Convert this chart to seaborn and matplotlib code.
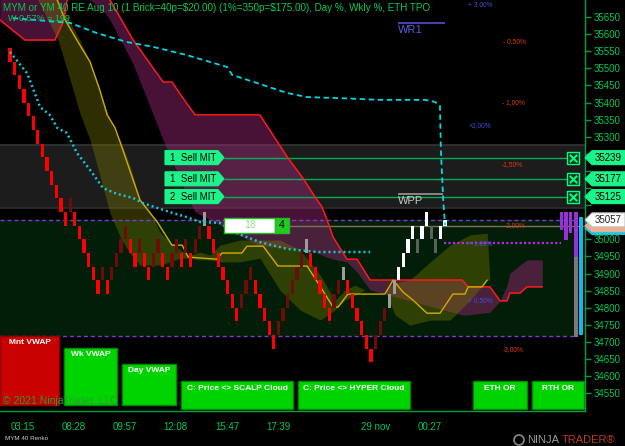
"""
MYM 40 Renko - NinjaTrader style chart
"""
import numpy as np
import pandas as pd
import matplotlib
matplotlib.use('Agg')
import matplotlib.pyplot as plt
import seaborn as sns
from matplotlib.patches import Polygon, Rectangle, Circle
from matplotlib.transforms import IdentityTransform

# --- renko bricks (level 0 top = 35560, 40 pts per brick) ---
brick_top0 = 35560
brick_size = 40
brick_level = [0, 1, 2, 3, 4, 5, 6, 7, 8, 9, 10, 11, 12, 11, 12, 13, 14, 15, 16, 17,
               16, 17, 16, 15, 14, 13, 14, 15, 14, 15, 16, 15, 14, 15, 16, 15, 14, 15, 14, 15,
               14, 13, 12, 13, 14, 15, 16, 17, 18, 19, 18, 17, 16, 17, 18, 19, 20, 21, 20, 19,
               18, 17, 16, 15, 14, 15, 16, 17, 18, 19, 18, 17, 16, 17, 18, 19, 20, 21, 22, 21,
               20, 19, 18, 17, 16, 15, 14, 13, 14, 13, 12, 13, 14, 13]
brick_kind = ("DDDDDDDDDDDDD" "u" "DDDDDD" "u" "D" "uuuu" "DD" "u" "DD" "uu" "DD" "uu" "D" "u" "D"
              "uu" "g" "DDDDDDD" "uuu" "DDDDD" "uuuuuu" "g" "DDDDD" "uu" "g" "DDDDDD" "uuu" "gg"
              "WWWW" "d" "WW" "dd" "W")
last_open, last_close = 35040, 35057

# --- indicator lines (x = brick index, y = price) ---
wk_vwap_x = [0.6, 13.0, 18.8, 25.3, 30.9, 38.2, 46.9, 48.0, 53.4, 59.9, 64.2, 71.3, 79.9,
             89.7, 91.8, 92.9, 93.1, 93.6, 94.0]
wk_vwap_y = [35647, 35633, 35603, 35577, 35563, 35539, 35504, 35481, 35457, 35428, 35416,
             35413, 35408, 35408, 35402, 35390, 35261, 35115, 35042]

day_vwap_x = [0, 3.7, 6.5, 8.6, 10.2, 12.3, 14.5, 17.3, 20.1, 23.1, 26.6, 28.7, 31.8, 35.2,
              38.2, 41.1, 45.4, 49.0, 54.0, 59.9, 66.3, 77.8]
day_vwap_y = [35548, 35486, 35387, 35364, 35326, 35311, 35252, 35203, 35150, 35133, 35121,
              35106, 35092, 35077, 35065, 35051, 35048, 35018, 34992, 34972, 34963, 34963]

scalp_x = [10.2, 11.9, 15.1, 17.3, 19.4, 21.0, 22.7, 24.4, 26.6, 28.1, 31.8, 35.0, 37.2, 38.5,
           44.7, 45.8, 50.1, 51.2, 54.7, 57.9, 64.2, 67.0, 69.8, 70.9, 73.0, 81.0, 82.8, 84.9,
           87.1, 90.1, 92.9, 95.7, 98.3, 99.0, 102.0, 103.1]
scalp_y = [35700, 35642, 35568, 35519, 35437, 35364, 35326, 35261, 35174, 35115, 35051, 34983,
           34983, 34948, 34942, 34960, 34960, 34980, 34980, 34922, 34922, 34863, 34802, 34802,
           34840, 34840, 34881, 34846, 34822, 34784, 34784, 34840, 34840, 34861, 34861, 34881]

# scalp cloud (olive)
scalp_cloud_x = [6.0, 10.4, 13.0, 15.1, 17.3, 19.4, 21.6, 23.8, 25.9, 28.1, 30.3, 32.4, 34.6,
                 36.7, 38.9, 41.1, 43.2, 45.4, 49.7, 54.0, 58.3, 62.7, 67.0, 70.2, 72.4, 74.5,
                 76.7, 81.0, 83.2, 86.4, 90.8, 95.1, 99.4, 103.1, 103.7]
scalp_cloud_hi = [35760, 35700, 35636, 35583, 35519, 35437, 35349, 35291, 35217, 35115, 35080,
                  35021, 34992, 34969, 34954, 34963, 34954, 34983, 34998, 34998, 34998, 34969,
                  34896, 34822, 34852, 34866, 34852, 34852, 34872, 34881, 34934, 34983, 35013,
                  35018, 34881]
scalp_cloud_lo = [35700, 35583, 35466, 35369, 35291, 35188, 35077, 35007, 34960, 34925, 34925,
                  34925, 34934, 34945, 34945, 34940, 34940, 34934, 34934, 34945, 34852, 34793,
                  34764, 34793, 34822, 34837, 34852, 34852, 34779, 34749, 34764, 34764, 34822,
                  34881, 34881]

# hyper cloud (red trend line + magenta band)
hyper_x = [-2.2, 0, 3.2, 9.7, 11.5, 12.5, 20.7, 21.6, 26.6, 33.1, 35.0, 38.9, 40.0, 54.0, 59.9,
           63.3, 65.9, 67.4, 68.5, 69.8, 72.8, 75.0, 77.8, 97.7, 99.0, 103.7, 105.9, 107.4,
           108.0, 110.2, 111.7, 115.0]
hyper_line = [35642, 35618, 35583, 35583, 35636, 35715, 35715, 35700, 35583, 35460, 35460,
              35384, 35364, 35364, 35241, 35179, 35124, 35095, 35057, 35007, 34942, 34942,
              34881, 34881, 34861, 34861, 34820, 34820, 34843, 34843, 34861, 34861]
hyper_band = [35758, 35758, 35758, 35758, 35758, 35758, 35659, 35642, 35513, 35290, 35232,
              35109, 35080, 34980, 34975, 34969, 34963, 34954, 34948, 34942, 34934, 34904,
              34852, 34779, 34779, 34787, 34820, 34866, 34901, 34925, 34940, 34940]

# ETH TPO profile on the right
tpo_x = [119.2, 120.1, 121.1, 122.3]
tpo_top = [35080, 35080, 35080, 35080]
tpo_bottom = [35027, 34998, 35018, 34948]
tpo_stem = (122.3, 34948, 34714)
tpo_cyan = (123.4, 35065, 34720)

# levels
tpo_band = (35092, 35276)
value_area = (34717, 35057)
pct_100_line = 34989
tan_line = 35040
orders = [35239, 35177, 35125]
order_labels = ['1  Sell MIT', '1  Sell MIT', '2  Sell MIT']
last_price = 35057

pct_labels = ['+ 3.00%', '- 0.50%', '- 1,00%', '+2,00%', '-1,50%', '- 2,00%', '+ 1,00%',
              '+ 0.50%', '-3,00%']
pct_x = [99.0, 106.5, 106.3, 99.0, 106.3, 106.3, 99.0, 99.0, 106.5]
pct_y = [35685, 35577, 35399, 35334, 35220, 35039, 34989, 34817, 34679]

time_ticks = [2.8, 13.8, 24.8, 35.8, 46.9, 58.1, 68.9, 78.9, 90.7]
time_labels = ['03:15', '08:28', '09:57', '12:08', '15:47', '17:39', '', '29 nov', '00:27']
price_ticks = list(range(34550, 35651, 50))
hidden_price_ticks = [35250, 35200, 35150, 35100, 35050]  # covered by the price tags

W, H = 625, 446
GREEN_TXT = '#00c853'
GREEN_AX = '#00a040'

sns.set_style('dark')
plt.rcParams['font.family'] = ['Liberation Sans', 'DejaVu Sans']
plt.rcParams['text.parse_math'] = False

fig = plt.figure(figsize=(W / 100, H / 100), dpi=100, facecolor='black')
ax = fig.add_axes([0, 35 / H, 585 / W, 411 / H])
ax.set_facecolor('black')
ax.set_xlim(-2.16, 124.24)
ax.set_ylim(34498, 35700)
ax.grid(False)

# backgrounds
ax.axhspan(*tpo_band, color='#1c1c1c', zorder=0.1, lw=0)
ax.axhline(tpo_band[0], color='#2e2e2e', lw=1.2, zorder=0.15)
ax.axhline(tpo_band[1], color='#353535', lw=1.2, zorder=0.15)
ax.axhspan(*value_area, xmax=575 / 585, color='#021d08', zorder=0.2, lw=0)

# clouds
ax.fill_between(hyper_x, hyper_line, hyper_band, color='#a02878', alpha=0.45, lw=0, zorder=1)
ax.fill_between(scalp_cloud_x, scalp_cloud_hi, scalp_cloud_lo, color='#7a7a00', alpha=0.38,
                lw=0, zorder=1.1)

# level lines
ax.hlines(list(value_area), -2.16, 122.5, colors='#7a3cc8', linestyles=(0, (3, 2)), lw=1, zorder=1.5)
ax.hlines(tan_line, 60.1, 124.24, colors='#7a7458', lw=1, zorder=1.5)
ax.hlines(pct_100_line, 93.8, 119, colors='#b030e0', linestyles=(0, (1, 1)), lw=1.6, zorder=1.6)
ax.hlines(orders, 46.2, 120.4, colors='#00b050', lw=1, zorder=1.6)

# TPO bars
tpo_h = [t - b for t, b in zip(tpo_top, tpo_bottom)]
ax.bar(tpo_x, tpo_h, bottom=tpo_bottom, width=0.75, color='#9a30d8', lw=0, zorder=2)
ax.bar(tpo_stem[0], tpo_stem[1] - tpo_stem[2], bottom=tpo_stem[2], width=0.75, color='#7a7a7a', lw=0, zorder=2)
ax.bar(tpo_cyan[0], tpo_cyan[1] - tpo_cyan[2], bottom=tpo_cyan[2], width=0.9, color='#10b8f0', lw=0, zorder=2)

# lines
sns.lineplot(x=hyper_x, y=hyper_line, ax=ax, color='#ff1a1a', lw=1.1, sort=False, estimator=None, zorder=2.5)
sns.lineplot(x=scalp_x, y=scalp_y, ax=ax, color='#d0ac00', lw=1.0, sort=False, estimator=None, zorder=2.6)

# bricks
kind_color = {'D': '#ff0000', 'u': '#6e0c0c', 'g': '#9c9c9c', 'd': '#56625a', 'W': '#ffffff'}
bricks = pd.DataFrame({'idx': np.arange(len(brick_level)), 'level': brick_level,
                       'kind': list(brick_kind)})
bricks['top'] = brick_top0 - brick_size * bricks['level']
ax.bar(bricks['idx'], brick_size, bottom=bricks['top'] - brick_size, width=0.7,
       color=[kind_color[k] for k in bricks['kind']], lw=0, zorder=3)
ax.bar(len(brick_level), last_close - last_open, bottom=last_open, width=0.7, color='#e0ffff', lw=0, zorder=3)

sns.lineplot(x=day_vwap_x, y=day_vwap_y, ax=ax, color='#19c6d6', lw=1.8, linestyle=(0, (0.8, 1.2)),
             sort=False, estimator=None, zorder=3.5)
sns.lineplot(x=wk_vwap_x, y=wk_vwap_y, ax=ax, color='#00d8e0', lw=1.3, linestyle=(0, (3, 2)),
             sort=False, estimator=None, zorder=3.5)

# pivots
ax.hlines(35633, 83.8, 94.0, colors='#5a50c8', lw=1.2, zorder=4)
ax.text(83.8, 35612, 'WR1', color='#5a5ad8', fontsize=8, va='center', zorder=4)
ax.hlines(35133, 83.8, 93.6, colors='#9a9a9a', lw=1.2, zorder=4)
ax.text(83.8, 35113, 'WPP', color='#c8c8c8', fontsize=8, va='center', zorder=4)

for lab, x, y in zip(pct_labels, pct_x, pct_y):
    col = '#4a4ad8' if lab.startswith('+') else '#e03a10'
    ax.text(x, y, lab, color=col, fontsize=4.8, va='center', zorder=4)

# order cancel boxes
ax.scatter([121.6] * 3, orders, marker='s', s=70, facecolor='#06361a', edgecolor='#00ff80', lw=1, zorder=5)
ax.scatter([121.6] * 3, orders, marker='x', s=28, color='#00ff80', lw=1.5, zorder=6)

# axes styling
for side in ['left', 'top']:
    ax.spines[side].set_visible(False)
for side in ['right', 'bottom']:
    ax.spines[side].set_color(GREEN_AX)
    ax.spines[side].set_linewidth(1)
ax.yaxis.tick_right()
ax.set_yticks(price_ticks)
ax.set_yticklabels(['' if p in hidden_price_ticks else str(p) for p in price_ticks])
ax.set_xticks(time_ticks)
ax.set_xticklabels(time_labels)
ax.tick_params(axis='y', colors=GREEN_AX, labelcolor=GREEN_TXT, length=4, width=1, pad=2,
               labelsize=7, direction='out', left=False, right=True)
ax.tick_params(axis='x', colors=GREEN_AX, labelcolor=GREEN_TXT, length=4, width=1, pad=4,
               labelsize=7, direction='out')
ax.set_xlabel('')
ax.set_ylabel('')

ID = IdentityTransform()


def ydisp(price):
    return ax.transData.transform((0, price))[1]


def tag(x0, x1, tip, yc, h, fc, ec=None):
    if tip > x1:
        pts = [(x0, yc - h / 2), (x1, yc - h / 2), (tip, yc), (x1, yc + h / 2), (x0, yc + h / 2)]
    else:
        pts = [(tip, yc), (x0, yc - h / 2), (x1, yc - h / 2), (x1, yc + h / 2), (x0, yc + h / 2)]
    fig.add_artist(Polygon(pts, closed=True, transform=ID, fc=fc, ec=ec or fc, lw=0.8, zorder=5))


def box(x0, y0, x1, y1, fc, ec):
    fig.add_artist(Rectangle((x0, H - y1), x1 - x0, y1 - y0, transform=ID, fc=fc, ec=ec, lw=1, zorder=5))


# order labels
for price, lab in zip(orders, order_labels):
    yc = ydisp(price)
    tag(165, 218, 224, yc, 14, '#19f58a')
    fig.text(170, yc, lab, transform=ID, fontsize=7, color='black', va='center', zorder=6)

# price tags on the right axis (cyan / tan ones are mostly hidden behind the last price)
tag(592, 625, 585, ydisp(35032), 12, '#10c8e0')
tag(592, 625, 585, ydisp(tan_line), 12, '#e8b090')
yc = ydisp(last_price)
tag(592, 625, 585, yc, 14, '#ffffff', '#c0c0c0')
fig.text(608, yc, str(last_price), transform=ID, fontsize=7, color='#202020', ha='center', va='center', zorder=6)
for price in orders:
    yc = ydisp(price)
    tag(592, 625, 585, yc, 14, '#19f58a')
    fig.text(608, yc, str(price), transform=ID, fontsize=7, color='black', ha='center', va='center', zorder=6)

# trade counter box
box(224, 218, 275, 233, '#ffffff', '#22bb22')
box(275, 218, 289, 233, '#22cc22', '#22bb22')
fig.text(250, H - 225.5, '18', transform=ID, fontsize=7.5, color='#8fe08f', ha='center', va='center', zorder=6)
fig.text(282, H - 225.5, '4', transform=ID, fontsize=7.5, color='black', ha='center', va='center', zorder=6)

# bottom indicator buttons
buttons = [('Mnt VWAP', 0, 336, 59, 405, '#c80000'),
           ('Wk VWAP', 64, 348, 117, 405, '#00d400'),
           ('Day VWAP', 122, 364, 176, 405, '#00d400'),
           ('C: Price <> SCALP Cloud', 181, 381, 293, 409, '#00d400'),
           ('C: Price <> HYPER Cloud', 298, 381, 410, 409, '#00d400'),
           ('ETH OR', 473, 381, 527, 409, '#00d400'),
           ('RTH OR', 532, 381, 584, 409, '#00d400')]
for lab, x0, y0, x1, y1, fc in buttons:
    box(x0, y0, x1, y1, fc, '#008a00' if fc != '#c80000' else '#900000')
    fig.text((x0 + x1) / 2, H - y0 - 7, lab, transform=ID, fontsize=6, fontweight='bold',
             color='white', ha='center', va='center', zorder=6)

# header text
fig.text(3, H - 8, 'MYM or YM 40 RE Aug 10 (1 Brick=40p=$20.00) (1%=350p=$175.00), Day %, Wkly %, ETH TPO',
         transform=ID, fontsize=7.1, color='#00cc55', va='center', zorder=7)
fig.text(8, H - 18, 'W 0,57% = 199', transform=ID, fontsize=6.5, color='#00cc55', va='center', zorder=7)

# watermark / footer
fig.text(3, H - 401, '\u00a9 2021 NinjaTrader, LLC', transform=ID, fontsize=7.5, color='#2f9a3a',
         va='center', zorder=7)
fig.text(5, H - 439, 'MYM 40 Renko', transform=ID, fontsize=4.5, color='#d0d0d0', va='center', zorder=7)
fig.add_artist(Circle((519, H - 440), 5, transform=ID, fc='none', ec='#8a8a8a', lw=1.2, zorder=7))
fig.text(527, H - 440, 'NINJA', transform=ID, fontsize=8, color='#9a9a9a', va='center', zorder=7)
fig.text(562, H - 440, 'TRADER\u00ae', transform=ID, fontsize=8, color='#b83a20', va='center', zorder=7)

fig.savefig('out.png', dpi=100, facecolor='black')
